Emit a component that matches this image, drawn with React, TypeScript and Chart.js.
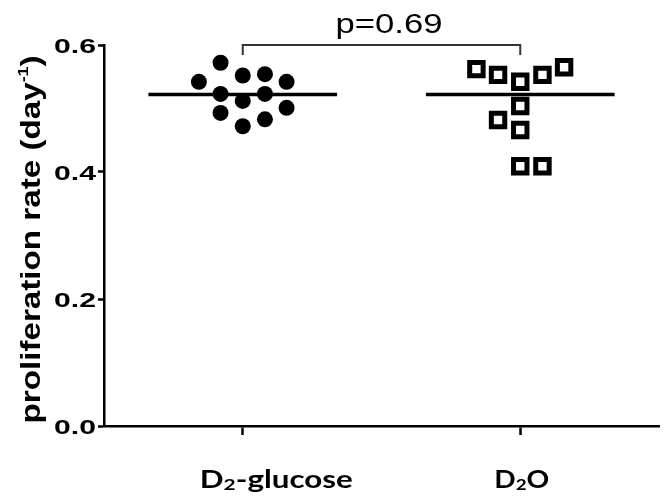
import React, { useEffect, useRef } from 'react';
import { Chart, registerables } from 'chart.js';

Chart.register(...registerables);

// ---------- data ----------
const CATEGORIES = ['D₂-glucose', 'D₂O'];
const CATEGORY_POS = [0, 1];
const Y_TICKS = [0, 0.2, 0.4, 0.6];
const Y_TICK_LABELS = ['0.0', '0.2', '0.4', '0.6'];

// D2-glucose (filled circles): horizontal jitter (category units) and values
const GLUCOSE_OFFSETS = [-0.08, -0.158, 0, 0.08, 0.158, -0.08, 0, 0.08, 0.158, -0.08, 0, 0.08];
const GLUCOSE_VALUES = [0.572, 0.542, 0.552, 0.554, 0.542, 0.523, 0.512, 0.523, 0.501, 0.493, 0.472, 0.483];

// D2O (open squares)
const D2O_OFFSETS = [-0.158, -0.08, 0, 0.08, 0.158, 0, -0.08, 0, 0, 0.08];
const D2O_VALUES = [0.562, 0.553, 0.542, 0.553, 0.565, 0.504, 0.482, 0.466, 0.409, 0.409];

const MEDIANS = [0.522, 0.522];
const P_LABEL = 'p=0.69';
const BRACKET_Y = 0.6;

// ---------- styles ----------
const MEDIAN_HALF = 0.34;
const LABEL_FONT = '"Liberation Sans", Arial, sans-serif';
const XLAB_FONT = 'Lato, "Open Sans", sans-serif';

type Part = { text: string; font: string; dy: number };

function drawFitted(
  ctx: CanvasRenderingContext2D,
  parts: Part[],
  x: number,
  y: number,
  targetW: number,
  align: 'left' | 'center' | 'right'
) {
  const widths = parts.map((p) => {
    ctx.font = p.font;
    return ctx.measureText(p.text).width;
  });
  const W = widths.reduce((a, b) => a + b, 0);
  const sx = targetW / W;
  const start = align === 'left' ? x : align === 'center' ? x - targetW / 2 : x - targetW;
  ctx.save();
  ctx.translate(start, y);
  ctx.scale(sx, 1);
  ctx.textAlign = 'left';
  ctx.textBaseline = 'alphabetic';
  let cx = 0;
  parts.forEach((p, i) => {
    ctx.font = p.font;
    ctx.fillText(p.text, cx, p.dy);
    cx += widths[i];
  });
  ctx.restore();
}

const textPlugin = {
  id: 'customText',
  afterDraw(chart: any) {
    const ctx: CanvasRenderingContext2D = chart.ctx;
    const xs = chart.scales.x;
    const ys = chart.scales.y;
    const area = chart.chartArea;
    ctx.save();
    ctx.fillStyle = '#000';

    // y tick labels
    Y_TICKS.forEach((v, i) => {
      const py = ys.getPixelForValue(v);
      drawFitted(ctx, [{ text: Y_TICK_LABELS[i], font: `bold 21px ${LABEL_FONT}`, dy: 0 }], area.left - 8, py + 7.5, 42, 'right');
    });

    // x labels
    const main = `bold 24px ${XLAB_FONT}`;
    const sub = `bold 16px ${XLAB_FONT}`;
    const t0 = xs.getPixelForValue(CATEGORY_POS[0]);
    const t1 = xs.getPixelForValue(CATEGORY_POS[1]);
    const base = area.bottom + 62;
    const lab0 = CATEGORIES[0];
    const lab1 = CATEGORIES[1];
    drawFitted(
      ctx,
      [
        { text: lab0.slice(0, 1), font: main, dy: 0 },
        { text: '2', font: sub, dy: 2 },
        { text: lab0.slice(2), font: main, dy: 0 },
      ],
      t0 - 43,
      base,
      153,
      'left'
    );
    drawFitted(
      ctx,
      [
        { text: lab1.slice(0, 1), font: main, dy: 0 },
        { text: '2', font: sub, dy: 2 },
        { text: lab1.slice(2), font: main, dy: 0 },
      ],
      t1 - 26,
      base,
      55,
      'left'
    );

    // y title (rotated)
    ctx.save();
    ctx.translate(40, (area.top + area.bottom) / 2 + 4);
    ctx.rotate(-Math.PI / 2);
    drawFitted(
      ctx,
      [
        { text: 'proliferation rate (day', font: `bold 28px ${LABEL_FONT}`, dy: 0 },
        { text: '-1', font: `bold 15px ${LABEL_FONT}`, dy: -12 },
        { text: ')', font: `bold 28px ${LABEL_FONT}`, dy: 0 },
      ],
      0,
      0,
      368,
      'center'
    );
    ctx.restore();

    // significance bracket
    const yb = ys.getPixelForValue(BRACKET_Y);
    ctx.strokeStyle = '#333';
    ctx.lineWidth = 2;
    ctx.beginPath();
    ctx.moveTo(t0, yb + 10);
    ctx.lineTo(t0, yb);
    ctx.lineTo(t1, yb);
    ctx.lineTo(t1, yb + 10);
    ctx.stroke();
    drawFitted(ctx, [{ text: P_LABEL, font: `28px ${LABEL_FONT}`, dy: 0 }], (t0 + t1) / 2 - 46, yb - 12, 107, 'left');

    ctx.restore();
  },
};

export default function App() {
  const ref = useRef<HTMLCanvasElement | null>(null);

  useEffect(() => {
    if (!ref.current) return;
    const glucoseData = GLUCOSE_VALUES.map((v, i) => ({ x: CATEGORY_POS[0] + GLUCOSE_OFFSETS[i], y: v }));
    const d2oData = D2O_VALUES.map((v, i) => ({ x: CATEGORY_POS[1] + D2O_OFFSETS[i], y: v }));
    const medianSets = MEDIANS.map((m, i) => ({
      type: 'line' as const,
      label: 'median ' + CATEGORIES[i],
      data: [
        { x: CATEGORY_POS[i] - MEDIAN_HALF, y: m },
        { x: CATEGORY_POS[i] + MEDIAN_HALF, y: m },
      ],
      showLine: true,
      borderColor: '#000',
      borderWidth: 3.5,
      pointRadius: 0,
      fill: false,
    }));

    const chart = new Chart(ref.current, {
      type: 'scatter',
      data: {
        datasets: [
          {
            label: CATEGORIES[0],
            data: glucoseData,
            pointStyle: 'circle',
            pointRadius: 8,
            backgroundColor: '#000',
            borderColor: '#000',
            borderWidth: 0,
          },
          {
            label: CATEGORIES[1],
            data: d2oData,
            pointStyle: 'rect',
            pointRadius: 9.5,
            backgroundColor: '#fff',
            borderColor: '#000',
            borderWidth: 5,
          },
          ...medianSets,
        ] as any,
      },
      options: {
        responsive: false,
        animation: false,
        devicePixelRatio: 1,
        layout: { autoPadding: false, padding: { top: 45, right: 7, left: 0, bottom: 0 } },
        plugins: {
          legend: { display: false },
          tooltip: { enabled: false },
          title: { display: false },
        },
        scales: {
          x: {
            type: 'linear',
            min: -0.5,
            max: 1.5,
            afterBuildTicks: (s: any) => {
              s.ticks = CATEGORY_POS.map((v) => ({ value: v }));
            },
            afterFit: (s: any) => {
              s.height = 76;
            },
            ticks: { display: false },
            grid: {
              drawOnChartArea: false,
              drawTicks: true,
              tickLength: 9,
              tickWidth: 2.5,
              tickColor: '#000',
              color: '#000',
            },
            border: { display: true, color: '#000', width: 2.5 },
          },
          y: {
            type: 'linear',
            min: 0,
            max: 0.6,
            afterBuildTicks: (s: any) => {
              s.ticks = Y_TICKS.map((v) => ({ value: v }));
            },
            afterFit: (s: any) => {
              s.width = 104;
            },
            ticks: { display: false },
            grid: {
              drawOnChartArea: false,
              drawTicks: true,
              tickLength: 6,
              tickWidth: 2.5,
              tickColor: '#000',
              color: '#000',
            },
            border: { display: true, color: '#000', width: 2.5 },
          },
        },
      } as any,
      plugins: [textPlugin],
    });
    return () => chart.destroy();
  }, []);

  return (
    <div style={{ position: 'absolute', left: 0, top: 0, width: 666, height: 502, background: '#fff' }}>
      <canvas ref={ref} width={666} height={502} style={{ display: 'block' }} />
    </div>
  );
}
